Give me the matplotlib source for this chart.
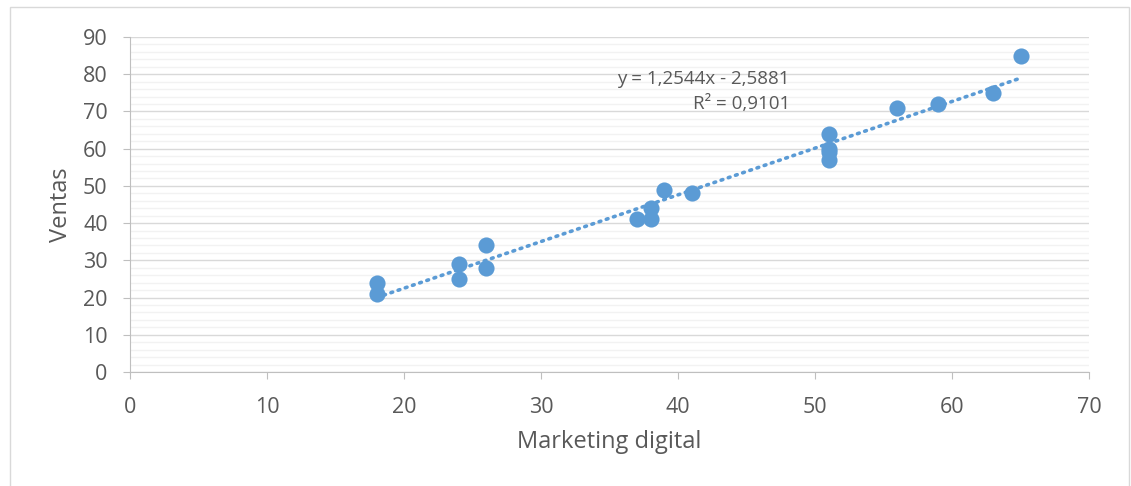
import matplotlib.pyplot as plt
import numpy as np
from matplotlib.patches import Rectangle
from matplotlib.ticker import MultipleLocator

# Marketing digital vs Ventas
marketing = [18, 18, 24, 24, 26, 26, 37, 38, 38, 39, 41, 51, 51, 51, 51, 56, 59, 63, 65]
ventas = [21, 24, 25, 29, 28, 34, 41, 41, 44, 49, 48, 64, 60, 59, 57, 71, 72, 75, 85]

slope = 1.2544
intercept = -2.5881
r2 = 0.9101

plt.rcParams['font.family'] = ['Open Sans', 'DejaVu Sans']
gray = '#595959'
blue = '#5B9BD5'

fig = plt.figure(figsize=(11.31, 4.86), dpi=100)
# chart area border (bottom edge runs off the picture)
fig.patches.append(Rectangle((10 / 1131, -0.02), 1119 / 1131, 1.0056, transform=fig.transFigure,
                             fill=False, edgecolor='#D9D9D9', linewidth=1))
ax = fig.add_axes([0.1149, 0.2346, 0.848, 0.6893])

# trendline
xt = np.array([min(marketing), max(marketing)])
ax.plot(xt, slope * xt + intercept, color=blue, linestyle=(0, (0.5, 1.6)),
        linewidth=2.6, dash_capstyle='round', zorder=2)
ax.scatter(marketing, ventas, s=135, color=blue, zorder=3, linewidths=0)

ax.set_xlim(0, 70)
ax.set_ylim(0, 90)
ax.xaxis.set_major_locator(MultipleLocator(10))
ax.yaxis.set_major_locator(MultipleLocator(10))
ax.yaxis.set_minor_locator(MultipleLocator(2))
ax.grid(axis='y', which='major', color='#D9D9D9', linewidth=1)
ax.grid(axis='y', which='minor', color='#F2F2F2', linewidth=1)
ax.set_axisbelow(True)

for s in ['top', 'right']:
    ax.spines[s].set_visible(False)
for s in ['left', 'bottom']:
    ax.spines[s].set_color('#BFBFBF')
ax.tick_params(which='major', length=5, color='#BFBFBF', labelcolor=gray, labelsize=15.5)
ax.tick_params(axis='x', pad=13)
ax.tick_params(axis='y', pad=11)
ax.tick_params(which='minor', length=0)

ax.set_xlabel('Marketing digital', color=gray, fontsize=17, labelpad=9)
ax.set_ylabel('Ventas', color=gray, fontsize=17, labelpad=7)

ax.text(0.688, 0.837, f'y = {slope:.4f}x - {-intercept:.4f}\nR² = {r2:.4f}'.replace('.', ','),
        transform=ax.transAxes, ha='right', va='center', multialignment='right',
        color=gray, fontsize=13.5, linespacing=1.55)

fig.savefig('out.png', dpi=100)
